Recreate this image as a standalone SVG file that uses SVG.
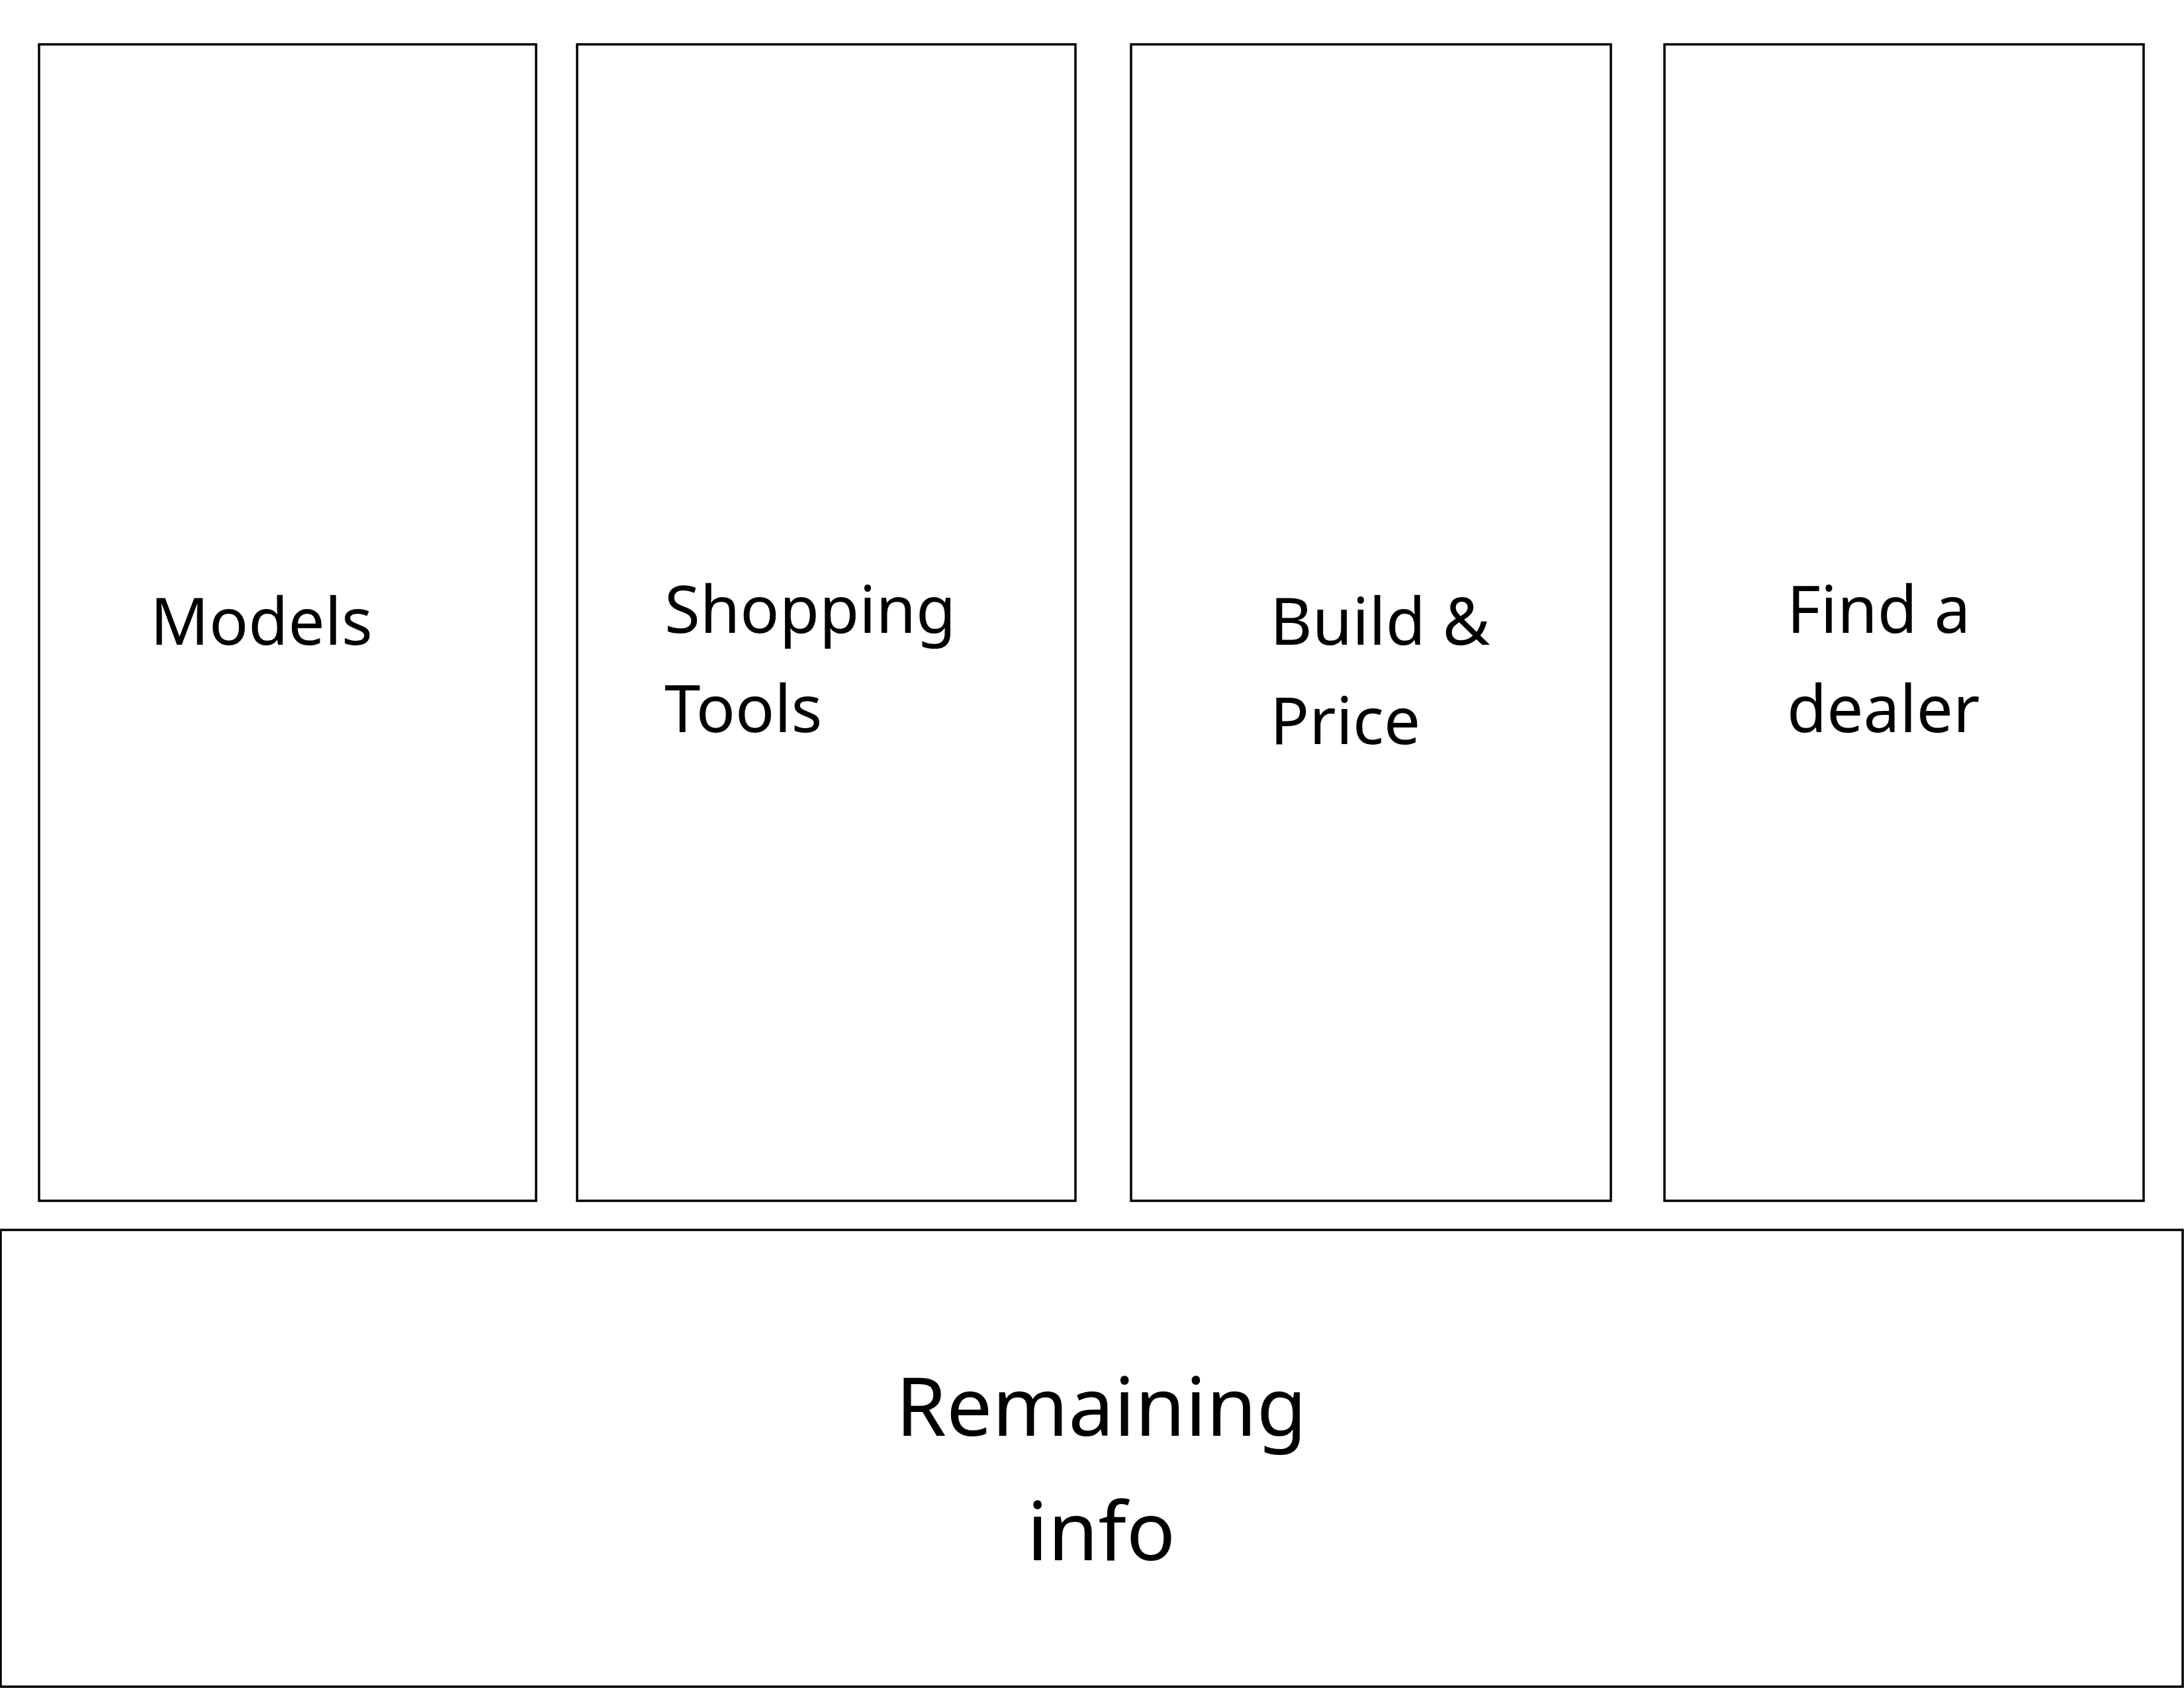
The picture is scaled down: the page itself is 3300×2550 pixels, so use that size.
<svg xmlns="http://www.w3.org/2000/svg" width="3300" height="2550" viewBox="0 0 3300 2550">
<style>
.box{fill:#ffffff;stroke:#000000;stroke-width:3.5}
.lbl{font-family:"Noto Sans","Open Sans",sans-serif;font-size:98px;fill:#000000}
.big{font-family:"Noto Sans","Open Sans",sans-serif;font-size:123px;fill:#000000;text-anchor:middle}
</style>
<rect x="0" y="0" width="3300" height="2550" fill="#ffffff"/>
<g id="models">
<rect class="box" x="59" y="67" width="751" height="1747"/>
<text class="lbl" x="227" y="974">Models</text>
</g>
<g id="shopping-tools">
<rect class="box" x="872" y="67" width="753" height="1747"/>
<text class="lbl" x="1004" y="956">Shopping</text>
<text class="lbl" x="1004" y="1106">Tools</text>
</g>
<g id="build-price">
<rect class="box" x="1709" y="67" width="725" height="1747"/>
<text class="lbl" x="1919" y="974">Build &amp;</text>
<text class="lbl" x="1919" y="1124">Price</text>
</g>
<g id="find-dealer">
<rect class="box" x="2515" y="67" width="724" height="1747"/>
<text class="lbl" x="2700" y="956">Find a</text>
<text class="lbl" x="2700" y="1106">dealer</text>
</g>
<g id="remaining-info">
<rect class="box" x="1" y="1858" width="3297" height="690"/>
<text class="big" x="1664" y="2169">Remaining</text>
<text class="big" x="1664" y="2357">info</text>
</g>
<g id="connectors"></g>
</svg>
